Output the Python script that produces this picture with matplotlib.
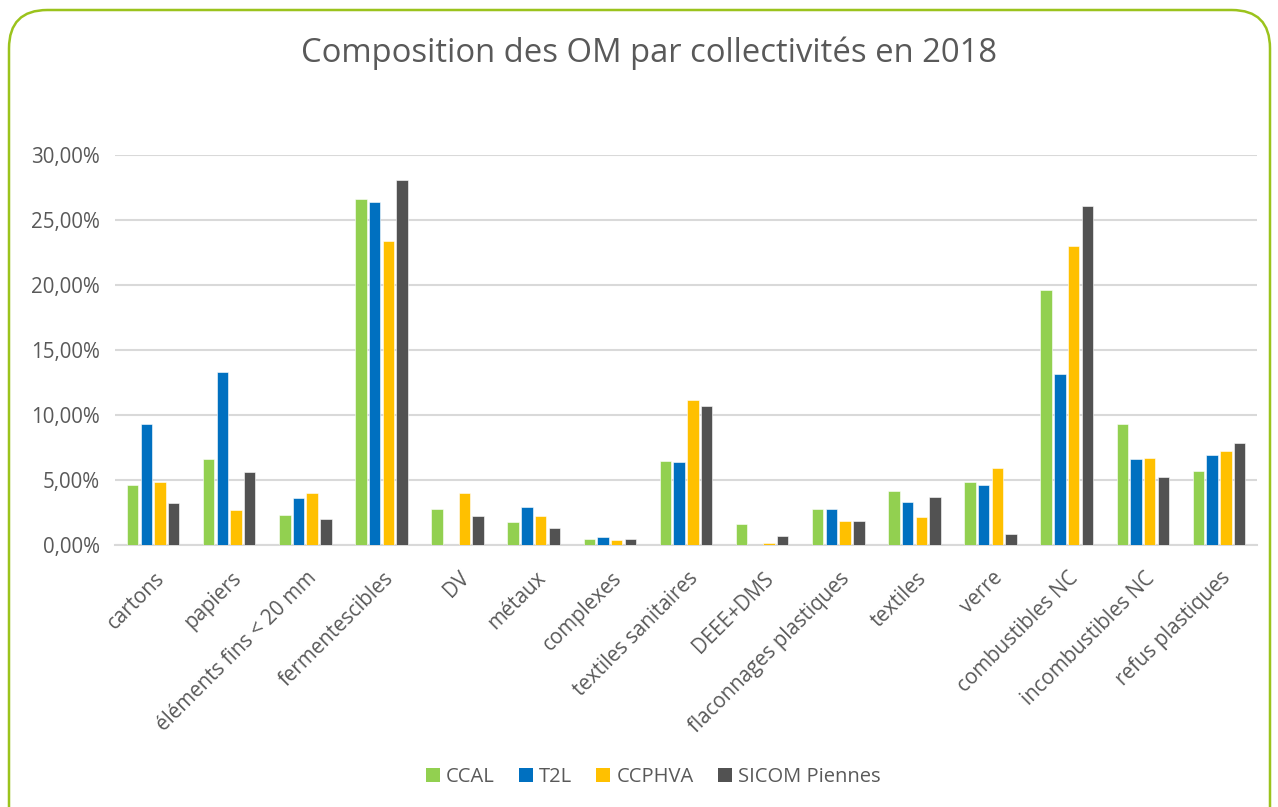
import numpy as np
import matplotlib.pyplot as plt
from matplotlib.patches import FancyBboxPatch, Patch
from matplotlib.ticker import FuncFormatter
import matplotlib.transforms as mtransforms

plt.rcParams['font.family'] = ['Open Sans', 'DejaVu Sans']

# -----------------------------
# Data (% of household waste)
# -----------------------------
categories = ["cartons", "papiers", "éléments fins < 20 mm", "fermentescibles", "DV",
              "métaux", "complexes", "textiles sanitaires", "DEEE+DMS",
              "flaconnages plastiques", "textiles", "verre", "combustibles NC",
              "incombustibles NC", "refus plastiques"]

ccal = [4.60, 6.60, 2.30, 26.60, 2.77, 1.77, 0.46, 6.46, 1.60, 2.77, 4.15, 4.85, 19.64, 9.30, 5.72]
t2l = [9.28, 13.30, 3.64, 26.40, 0.00, 2.92, 0.64, 6.36, 0.00, 2.74, 3.28, 4.62, 13.15, 6.60, 6.92]
ccphva = [4.82, 2.70, 3.97, 23.36, 4.00, 2.26, 0.38, 11.15, 0.15, 1.85, 2.15, 5.95, 22.97, 6.69, 7.26]
sicom = [3.20, 5.60, 1.97, 28.10, 2.23, 1.33, 0.44, 10.69, 0.69, 1.85, 3.69, 0.82, 26.05, 5.20, 7.87]

series_names = ["CCAL", "T2L", "CCPHVA", "SICOM Piennes"]
series_values = [ccal, t2l, ccphva, sicom]
colors = ["#92D050", "#0070C0", "#FFC000", "#525252"]

text_color = "#595959"

# -----------------------------
# Figure
# -----------------------------
fig = plt.figure(figsize=(12.78, 8.07), dpi=100)
ax = fig.add_axes([0.09, 0.3247, 0.8936, 0.4833])

x = np.arange(len(categories))
step = 0.18
width = 0.15
for i, (name, vals, col) in enumerate(zip(series_names, series_values, colors)):
    ax.bar(x + (i - 1.5) * step, vals, width, color=col, label=name,
           edgecolor="white", linewidth=0.4, zorder=3)

ax.set_xlim(-0.5, len(categories) - 0.5)
ax.set_ylim(0, 30)
ax.set_yticks(np.arange(0, 31, 5))
ax.yaxis.set_major_formatter(FuncFormatter(lambda v, p: f"{v:.2f}%".replace(".", ",")))
ax.grid(axis="y", color="#D9D9D9", linewidth=1.5, zorder=0)
for s in ["top", "right", "left"]:
    ax.spines[s].set_visible(False)
ax.spines["bottom"].set_color("#D9D9D9")
ax.spines["bottom"].set_linewidth(1.5)
ax.tick_params(axis="both", length=0, colors=text_color, labelsize=14.8)
ax.tick_params(axis="y", pad=11)

ax.set_xticks(x)
ax.set_xticklabels(categories, rotation=45, ha="right", va="top")
offset = mtransforms.ScaledTranslation(16 / 100, -18 / 100, fig.dpi_scale_trans)
for lab in ax.get_xticklabels():
    lab.set_transform(lab.get_transform() + offset)

fig.text(0.508, 0.934, "Composition des OM par collectivités en 2018",
         ha="center", va="center", fontsize=23.6, color=text_color)

handles = [Patch(facecolor=c, label=n) for n, c in zip(series_names, colors)]
fig.legend(handles=handles, loc="center", bbox_to_anchor=(0.511, 0.037), ncol=4,
           frameon=False, fontsize=14.5, labelcolor=text_color, handlelength=0.7,
           handleheight=0.7, handletextpad=0.3, columnspacing=1.2)

# rounded green frame
frame = FancyBboxPatch((9 / 1278, -0.05), 1261 / 1278, 1.05 - 10 / 807,
                       boxstyle="round,pad=0,rounding_size=0.03",
                       transform=fig.transFigure, fill=False,
                       edgecolor="#9BC31C", linewidth=1.8, clip_on=False,
                       mutation_aspect=1278 / 807)
fig.patches.append(frame)

fig.savefig("out.png", dpi=100)
